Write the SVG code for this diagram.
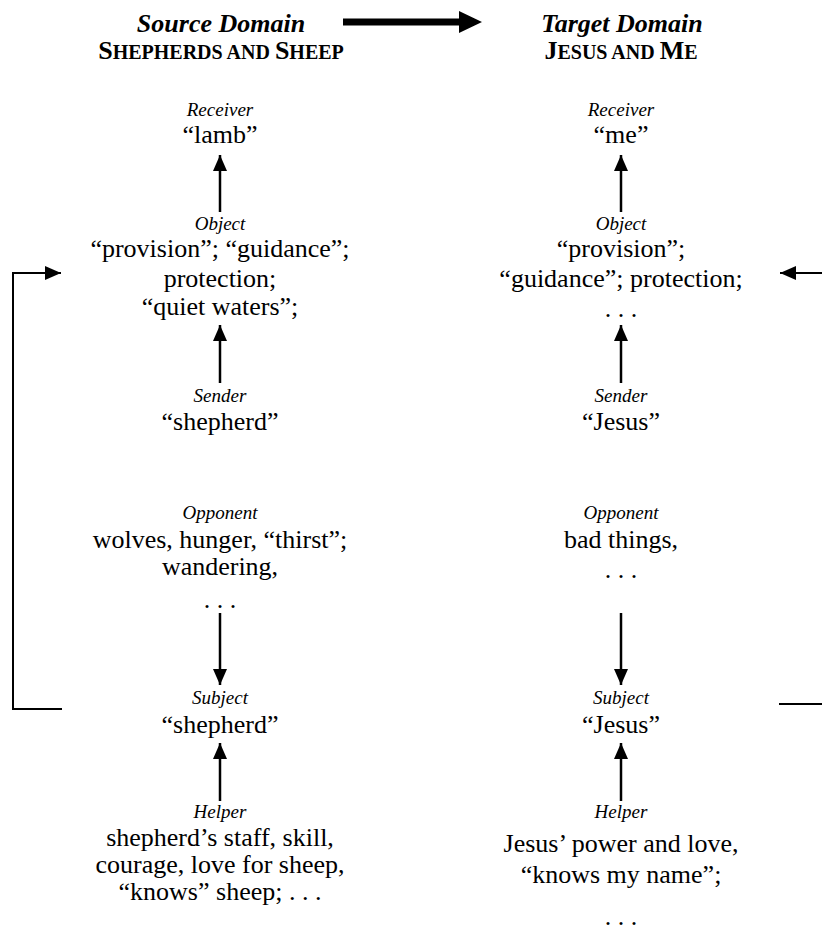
<svg xmlns="http://www.w3.org/2000/svg" width="822" height="931" viewBox="0 0 822 931" font-family="'Liberation Serif', 'Times New Roman', 'DejaVu Serif', serif">
  <style>
    text { font-family: 'Liberation Serif', 'Times New Roman', 'DejaVu Serif', serif; fill: #000; text-anchor: middle; }
    .role { font-style: italic; font-size: 19px; }
    .val { font-size: 26px; }
    .head { font-weight: bold; font-style: italic; font-size: 26px; }
    .sc { font-weight: bold; font-size: 26px; }
    .s { font-size: 20px; }
    .line { stroke: #000; stroke-width: 2.5; fill: none; }
    .thin { stroke: #000; stroke-width: 2; fill: none; }
  </style>
  <defs>
    <marker id="tip" viewBox="0 0 16 14" refX="16" refY="7" markerWidth="16" markerHeight="14" markerUnits="userSpaceOnUse" orient="auto">
      <path d="M0,0 L16,7 L0,14 Z" fill="#000"/>
    </marker>
  </defs>
  <rect width="822" height="931" fill="#fff"/>

  <!-- headings -->
  <g id="source-heading">
    <text class="head" x="221" y="32">Source Domain</text>
    <text class="sc" x="221" y="59">S<tspan class="s">HEPHERDS AND </tspan>S<tspan class="s">HEEP</tspan></text>
  </g>
  <g id="target-heading">
    <text class="head" x="622" y="32">Target Domain</text>
    <text class="sc" x="621" y="59">J<tspan class="s">ESUS AND </tspan>M<tspan class="s">E</tspan></text>
  </g>
  <g id="domain-arrow">
    <path d="M343,18.5 H459 V11 L482,22 L459,33 V25.5 H343 Z" fill="#000"/>
  </g>

  <!-- source column -->
  <g id="src-receiver">
    <text class="role" x="220" y="116">Receiver</text>
    <text class="val" x="220" y="143">“lamb”</text>
  </g>
  <g id="src-object">
    <text class="role" x="220" y="230">Object</text>
    <text class="val" x="220" y="257">“provision”; “guidance”;</text>
    <text class="val" x="220" y="287">protection;</text>
    <text class="val" x="220" y="315">“quiet waters”;</text>
  </g>
  <g id="src-sender">
    <text class="role" x="220" y="402">Sender</text>
    <text class="val" x="220" y="430">“shepherd”</text>
  </g>
  <g id="src-opponent">
    <text class="role" x="220" y="519">Opponent</text>
    <text class="val" x="220" y="548">wolves, hunger, “thirst”;</text>
    <text class="val" x="220" y="575">wandering,</text>
    <text class="val" x="220" y="608">. . .</text>
  </g>
  <g id="src-subject">
    <text class="role" x="220" y="704">Subject</text>
    <text class="val" x="220" y="733">“shepherd”</text>
  </g>
  <g id="src-helper">
    <text class="role" x="220" y="818">Helper</text>
    <text class="val" x="220" y="846">shepherd’s staff, skill,</text>
    <text class="val" x="220" y="873">courage, love for sheep,</text>
    <text class="val" x="220" y="900">“knows” sheep; . . .</text>
  </g>

  <!-- target column -->
  <g id="tgt-receiver">
    <text class="role" x="621" y="116">Receiver</text>
    <text class="val" x="621" y="143">“me”</text>
  </g>
  <g id="tgt-object">
    <text class="role" x="621" y="230">Object</text>
    <text class="val" x="621" y="257">“provision”;</text>
    <text class="val" x="621" y="287">“guidance”; protection;</text>
    <text class="val" x="621" y="317">. . .</text>
  </g>
  <g id="tgt-sender">
    <text class="role" x="621" y="402">Sender</text>
    <text class="val" x="621" y="430">“Jesus”</text>
  </g>
  <g id="tgt-opponent">
    <text class="role" x="621" y="519">Opponent</text>
    <text class="val" x="621" y="548">bad things,</text>
    <text class="val" x="621" y="578">. . .</text>
  </g>
  <g id="tgt-subject">
    <text class="role" x="621" y="704">Subject</text>
    <text class="val" x="621" y="733">“Jesus”</text>
  </g>
  <g id="tgt-helper">
    <text class="role" x="621" y="818">Helper</text>
    <text class="val" x="621" y="852">Jesus’ power and love,</text>
    <text class="val" x="621" y="883">“knows my name”;</text>
    <text class="val" x="621" y="925">. . .</text>
  </g>

  <!-- connectors -->
  <g id="connectors">
    <line class="line" x1="220" y1="212" x2="220" y2="155" marker-end="url(#tip)"/>
    <line class="line" x1="220" y1="383" x2="220" y2="325" marker-end="url(#tip)"/>
    <line class="line" x1="220" y1="613" x2="220" y2="685" marker-end="url(#tip)"/>
    <line class="line" x1="220" y1="801" x2="220" y2="743" marker-end="url(#tip)"/>

    <line class="line" x1="621" y1="212" x2="621" y2="155" marker-end="url(#tip)"/>
    <line class="line" x1="621" y1="383" x2="621" y2="325" marker-end="url(#tip)"/>
    <line class="line" x1="621" y1="613" x2="621" y2="685" marker-end="url(#tip)"/>
    <line class="line" x1="621" y1="801" x2="621" y2="743" marker-end="url(#tip)"/>

    <!-- feedback loops from Subject back to Object -->
    <polyline class="thin" points="62,709 13,709 13,273 61,273" marker-end="url(#tip)"/>
    <line class="thin" x1="779" y1="704" x2="822" y2="704"/>
    <line class="thin" x1="822" y1="273" x2="780" y2="273" marker-end="url(#tip)"/>
  </g>
</svg>
